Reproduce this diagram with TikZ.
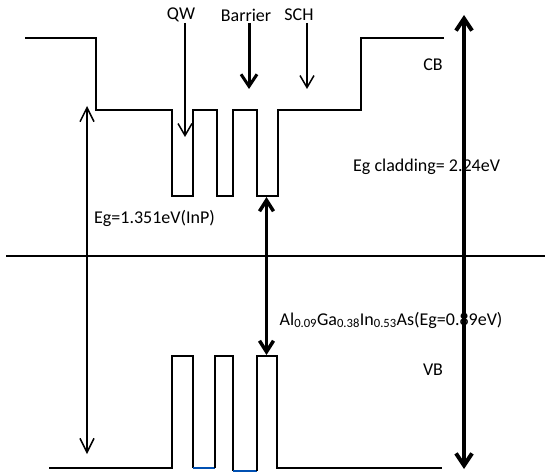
\documentclass[tikz,border=0pt]{standalone}
\usepackage{fontspec}
\setmainfont{Carlito}
\usetikzlibrary{arrows.meta}
\begin{document}
\begin{tikzpicture}[x=1pt,y=-1pt,
  band/.style={line width=2pt, line join=miter},
  bluebase/.style={line width=2pt, color=blue!55!cyan!70!black},
  lbl/.style={inner sep=0pt, font=\fontsize{18}{21}\selectfont},
  thinarrow/.style={line width=1.5pt, -{Straight Barb[length=12pt,width=14pt]}},
  thickarrow/.style={line width=3pt, -{Straight Barb[length=12pt,width=16pt]}},
  thindouble/.style={line width=1.5pt, {Straight Barb[length=14pt,width=14pt]}-{Straight Barb[length=14pt,width=14pt]}},
  centerdouble/.style={line width=3.5pt, {Straight Barb[length=11pt,width=14pt]}-{Straight Barb[length=11pt,width=14pt]}},
  bigdouble/.style={line width=4pt, {Straight Barb[length=12pt,width=16pt]}-{Straight Barb[length=12pt,width=16pt]}}]
\useasboundingbox (0,0) rectangle (545,473);
% labels
\node[lbl] (qw) at (181,15) {QW};
\node[lbl] (barrier) at (246,15) {Barrier};
\node[lbl] (sch) at (299,15) {SCH};
\node[lbl] (cb) at (433,65) {CB};
\node[lbl] (vb) at (433,370) {VB};
\node[lbl, anchor=west] (egclad) at (353,167) {Eg cladding= 2.24eV};
\node[lbl, anchor=west] (eginp) at (94,218) {Eg=1.351eV(InP)};
\node[lbl, anchor=west] (algainas) at (279.5,320) {Al\textsubscript{0.09}Ga\textsubscript{0.38}In\textsubscript{0.53}As(Eg=0.89eV)};
% conduction band
\draw[band] (25,38.5) -- (96,38.5) -- (96,110) -- (172,110) -- (172,196) -- (193.3,196) -- (193.3,110)
  -- (216.7,110) -- (216.7,196) -- (233.3,196) -- (233.3,110) -- (257.3,110) -- (257.3,196)
  -- (278.3,196) -- (278.3,110) -- (360.6,110) -- (360.6,38.5) -- (444.4,38.5);
% middle line
\draw[band] (6,256) -- (545,256);
% valence band
\draw[band] (49,468) -- (172,468) -- (172,356) -- (193.3,356) -- (193.3,468);
\draw[bluebase] (193.3,468) -- (215,468);
\draw[band] (215,468) -- (215,356) -- (233.3,356) -- (233.3,470.5);
\draw[bluebase] (233.3,470.5) -- (257,470.5);
\draw[band] (257,470.5) -- (257,356) -- (277.3,356) -- (277.3,468) -- (442,468);
% arrow end points
\coordinate (qwa) at (185,23);
\coordinate (qwb) at (185,137);
\coordinate (bara) at (249,23);
\coordinate (barb) at (249,89);
\coordinate (scha) at (307,23);
\coordinate (schb) at (307,89);
\coordinate (lefta) at (87,106);
\coordinate (leftb) at (87,454);
\coordinate (cena) at (266.5,197);
\coordinate (cenb) at (266.5,355);
\coordinate (biga) at (464,15);
\coordinate (bigb) at (464,469);
% arrows
\draw[thinarrow] (qwa) -- (qwb);
\draw[thickarrow] (bara) -- (barb);
\draw[thinarrow] (scha) -- (schb);
\draw[thindouble] (leftb) -- (lefta);
\draw[centerdouble] (cena) -- (cenb);
\draw[bigdouble] (biga) -- (bigb);
\end{tikzpicture}
\end{document}
